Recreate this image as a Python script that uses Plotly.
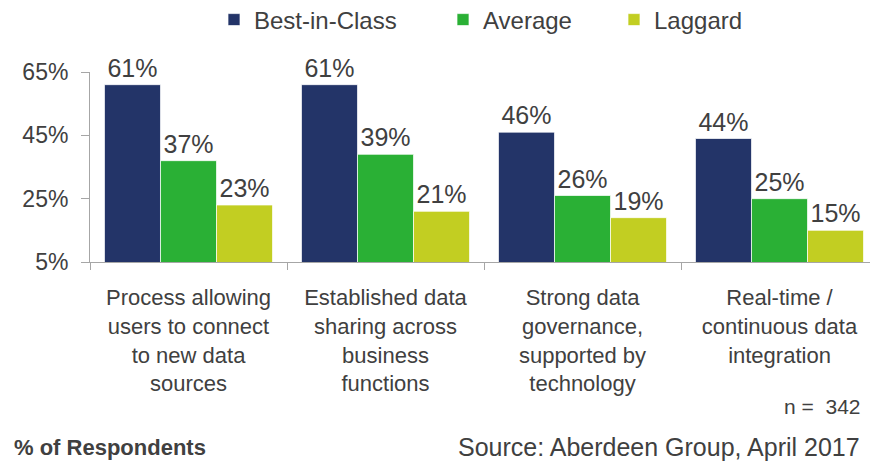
import plotly.graph_objects as go

categories = [
    "Process allowing<br>users to connect<br>to new data<br>sources",
    "Established data<br>sharing across<br>business<br>functions",
    "Strong data<br>governance,<br>supported by<br>technology",
    "Real-time /<br>continuous data<br>integration",
]
series_names = ["Best-in-Class", "Average", "Laggard"]
best_in_class = [61, 61, 46, 44]
average = [37, 39, 26, 25]
laggard = [23, 21, 19, 15]
y_ticks = [5, 25, 45, 65]
y_tick_labels = ["5%", "25%", "45%", "65%"]

COLORS = ["#233468", "#2AB035", "#C2CE22"]
TEXT = "#404040"
AXIS = "#A6A6A6"
FONT = "Liberation Sans, Arial, sans-serif"

# the page body has an 8px margin, so the figure is 8px smaller than the window
OFF = 8
W, H = 878 - OFF, 462 - OFF
L, R, T = 90 - OFF, 0, 72 - OFF
PH = 190
B = H - T - PH
PW = W - L - R


def px_x(px):
    # window pixel column -> paper x
    return (px - OFF - L) / PW


def px_y(py):
    # window pixel row -> paper y
    return (H - B - (py - OFF)) / PH


fig = go.Figure()

# one legend per series so the spacing can follow the reference
legend_text_x = [252, 481, 652]
for i, (name, vals) in enumerate(zip(series_names, [best_in_class, average, laggard])):
    legend_id = "legend" if i == 0 else f"legend{i + 1}"
    fig.add_trace(go.Bar(
        x=categories,
        y=vals,
        name=name,
        marker=dict(color=COLORS[i], line=dict(color="rgba(255,255,255,0.7)", width=1)),
        text=[f"{v}%" for v in vals],
        textposition="outside",
        textfont=dict(size=25, color=TEXT, family=FONT),
        cliponaxis=False,
        legend=legend_id,
        showlegend=True,
    ))
    fig.update_layout({legend_id: dict(
        orientation="h",
        xref="container", yref="container",
        x=(legend_text_x[i] - OFF - 40 + 2) / W,
        y=1 - 12 / H,
        xanchor="left", yanchor="middle",
        font=dict(size=24, color=TEXT, family=FONT),
        bgcolor="rgba(0,0,0,0)",
    )})

fig.update_layout(
    width=W, height=H,
    margin=dict(l=L, r=R, t=T, b=B),
    showlegend=True,
    barmode="group",
    bargap=0.147,
    bargroupgap=0,
    plot_bgcolor="white",
    paper_bgcolor="white",
    font=dict(family=FONT, color=TEXT),
)

fig.update_yaxes(
    range=[5, 65],
    tickmode="array",
    tickvals=y_ticks,
    ticktext=y_tick_labels,
    showgrid=False,
    zeroline=False,
    showline=True,
    linecolor=AXIS,
    linewidth=1,
    ticks="outside",
    ticklen=8,
    tickcolor=AXIS,
    tickfont=dict(size=23, color=TEXT, family=FONT),
    ticklabelstandoff=8,
)

fig.update_xaxes(
    showgrid=False,
    showline=True,
    linecolor=AXIS,
    linewidth=1,
    ticks="outside",
    tickson="boundaries",
    ticklen=7,
    tickcolor=AXIS,
    tickfont=dict(size=22, color=TEXT, family=FONT),
    ticklabelstandoff=16,
)

fig.add_annotation(
    text="n =  342", xref="paper", yref="paper", x=px_x(862), y=px_y(406),
    xanchor="right", yanchor="middle", showarrow=False,
    font=dict(size=21, color=TEXT, family=FONT),
)
fig.add_annotation(
    text="Source: Aberdeen Group, April 2017", xref="paper", yref="paper",
    x=px_x(862), y=px_y(447),
    xanchor="right", yanchor="middle", showarrow=False,
    font=dict(size=25, color=TEXT, family=FONT),
)
fig.add_annotation(
    text="<b>% of Respondents</b>", xref="paper", yref="paper", x=px_x(12), y=px_y(447),
    xanchor="left", yanchor="middle", showarrow=False,
    font=dict(size=22, color=TEXT, family=FONT),
)

fig.write_html("out.html")
